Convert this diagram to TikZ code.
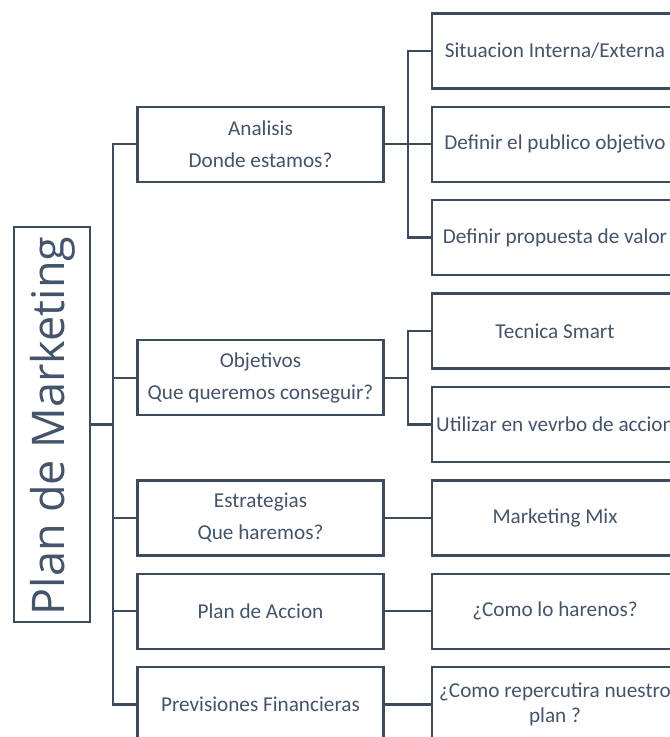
\documentclass[tikz,border=0pt]{standalone}
\usepackage{fontspec}
\setmainfont{Carlito}
\newfontfamily\bigfont{Open Sans}
\definecolor{txt}{HTML}{44546A}
\definecolor{ln}{HTML}{3D4B5E}
\begin{document}
\begin{tikzpicture}[x=1pt,y=-1pt,
  box/.style={draw=ln, line width=2.4pt, fill=white, minimum width=246pt,
    minimum height=75pt, inner sep=0pt, text=txt,
    font=\fontsize{21.2}{32}\selectfont, align=center},
  conn/.style={draw=ln, line width=2.4pt}]
\clip (0,0) rectangle (670,737);
\fill[white] (0,0) rectangle (670,737);
% root
\node[draw=ln, line width=2.4pt, minimum width=76pt, minimum height=395pt, inner sep=0pt] (root) at (52,424.5) {};
\node[rotate=90, text=txt, inner sep=0pt, font=\bigfont\fontsize{45}{50}\selectfont] (roottext) at (53,426) {Plan de Marketing};
% level 1
\node[box] (a1) at (260.5,144.2) {Analisis\\Donde estamos?};
\node[box] (a2) at (260.5,377.7) {Objetivos\\Que queremos conseguir?};
\node[box] (a3) at (260.5,517.8) {Estrategias\\Que haremos?};
\node[box] (a4) at (260.5,611.2) {Plan de Accion};
\node[box] (a5) at (260.5,704.6) {Previsiones Financieras};
% level 2
\node[box] (b1) at (555,50.8) {Situacion Interna/Externa};
\node[box] (b2) at (555,144.2) {Definir el publico objetivo};
\node[box] (b3) at (555,237.6) {Definir propuesta de valor};
\node[box] (b4) at (555,331.0) {Tecnica Smart};
\node[box] (b5) at (555,424.4) {Utilizar en vevrbo de accion};
\node[box] (b6) at (555,517.8) {Marketing Mix};
\node[box] (b7) at (555,611.2) {¿Como lo harenos?};
\node[box, font=\fontsize{21.2}{24.5}\selectfont] (b8) at (555,704.6) {¿Como repercutira nuestro\\plan ?};
% trunk
\coordinate (trunk) at (113,0);
\draw[conn] (a1.west) -- (a1.west -| trunk) |- (a5.west);
\draw[conn] (a2.west) -- (a2.west -| trunk);
\draw[conn] (a3.west) -- (a3.west -| trunk);
\draw[conn] (a4.west) -- (a4.west -| trunk);
\draw[conn] (root.east) -- (root.east -| trunk);
% branches
\coordinate (split) at (408,0);
\draw[conn] (a1.east) -- (b2.west);
\draw[conn] (b1.west) -- (b1.west -| split) |- (b3.west);
\draw[conn] (b4.west) -- (b4.west -| split) |- (b5.west);
\draw[conn] (a2.east) -- (a2.east -| split);
\draw[conn] (a3.east) -- (b6.west);
\draw[conn] (a4.east) -- (b7.west);
\draw[conn] (a5.east) -- (b8.west);
\end{tikzpicture}
\end{document}
